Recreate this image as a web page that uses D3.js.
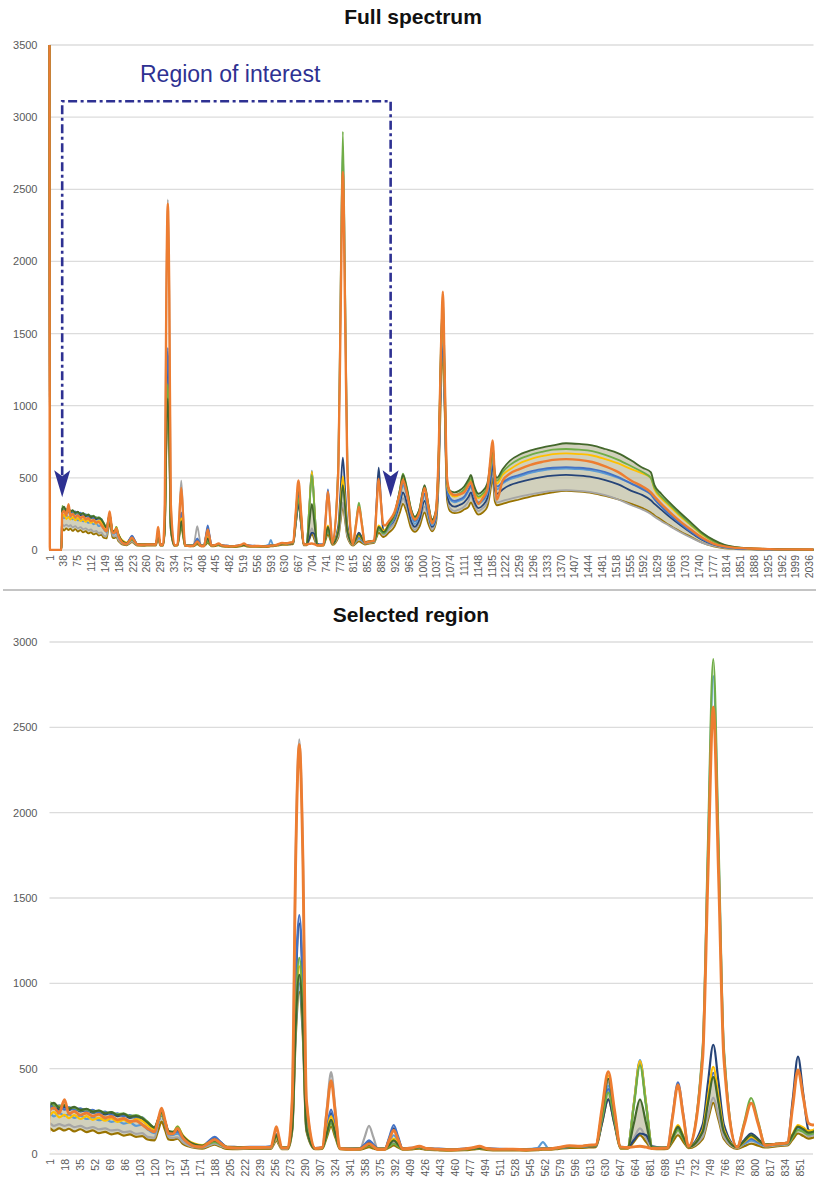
<!DOCTYPE html>
<html>
<head>
<meta charset="utf-8">
<script src="https://cdn.jsdelivr.net/npm/d3@7"></script>
<style>
  body { margin: 0; background: #fff; }
  svg { display: block; font-family: "Liberation Sans", Arial, sans-serif; }
</style>
</head>
<body>
<svg id="chart" width="816" height="1185"></svg>
<script>
// channel numbers of the points (2048 channels)
const channels = [
  1, 2, 33, 35, 40, 46, 52, 57, 63, 70,
  77, 84, 91, 98, 105, 112, 119, 126, 133, 140,
  146, 154, 158, 162, 166, 170, 175, 180, 186, 192,
  200, 208, 215, 222, 229, 236, 248, 262, 274, 286,
  289, 292, 295, 298, 305, 310, 314, 318, 322, 326,
  336, 344, 349, 354, 359, 364, 378, 387, 392, 397,
  402, 407, 415, 420, 425, 430, 435, 446, 454, 462,
  475, 490, 505, 516, 522, 530, 545, 560, 575, 588,
  594, 600, 612, 624, 636, 646, 654, 661, 668, 675,
  682, 690, 697, 704, 711, 718, 728, 735, 741, 747,
  753, 759, 775, 781, 787, 793, 799, 814, 822, 830,
  838, 846, 858, 871, 877, 883, 889, 895, 900, 910,
  925, 940, 948, 958, 970, 980, 992, 1006, 1016, 1026,
  1036, 1044, 1050, 1055, 1060, 1066, 1074, 1086, 1098, 1112,
  1124, 1130, 1138, 1150, 1162, 1174, 1182, 1188, 1194, 1200,
  1215, 1235, 1260, 1290, 1320, 1350, 1385, 1420, 1455, 1490,
  1525, 1560, 1590, 1612, 1622, 1640, 1660, 1690, 1720, 1750,
  1780, 1810, 1840, 1880, 1930, 1990, 2048
];

// intensities, one array per spectrum
const orangeSpec = [
  3500, 0, 0, 255, 270, 240, 318, 235, 250, 228,
  240, 222, 232, 212, 220, 200, 208, 190, 195, 172,
  150, 130, 199, 268, 194, 120, 118, 150, 95, 65,
  45, 42, 63, 85, 61, 38, 36, 38, 38, 40,
  100, 160, 98, 36, 36, 320, 1750, 2400, 1750, 320,
  32, 38, 234, 430, 231, 32, 28, 30, 45, 60,
  44, 28, 28, 84, 140, 84, 30, 35, 45, 32,
  28, 25, 30, 38, 45, 32, 27, 28, 25, 28,
  30, 30, 38, 48, 45, 52, 55, 268, 482, 261,
  40, 38, 42, 45, 40, 32, 34, 35, 220, 404,
  224, 45, 562, 1640, 2620, 1640, 562, 40, 169, 298,
  174, 50, 58, 65, 279, 493, 330, 180, 170, 200,
  260, 400, 485, 400, 260, 210, 260, 430, 300, 185,
  260, 700, 1400, 1790, 1200, 500, 404, 380, 385, 400,
  450, 470, 400, 320, 360, 420, 620, 760, 520, 350,
  480, 530, 560, 590, 610, 625, 630, 625, 610, 580,
  540, 480, 440, 400, 370, 320, 270, 200, 140, 85,
  45, 25, 15, 10, 6, 4, 3
];
const blueSpec = [
  3500, 0, 0, 290, 265, 285, 260, 275, 258, 268,
  250, 258, 240, 248, 228, 238, 220, 228, 210, 215,
  180, 155, 200, 245, 188, 130, 125, 132, 100, 70,
  50, 48, 74, 100, 70, 40, 40, 42, 42, 44,
  72, 100, 69, 38, 38, 190, 1020, 1400, 1020, 190,
  35, 36, 148, 260, 148, 35, 32, 34, 57, 80,
  56, 32, 32, 101, 170, 101, 33, 36, 40, 33,
  30, 28, 30, 36, 40, 33, 30, 29, 28, 30,
  35, 32, 36, 42, 44, 48, 50, 215, 380, 210,
  40, 40, 290, 540, 288, 38, 37, 38, 229, 420,
  234, 48, 135, 314, 475, 314, 135, 42, 66, 90,
  70, 50, 55, 60, 110, 160, 145, 125, 130, 170,
  230, 380, 470, 400, 260, 200, 250, 390, 280, 190,
  240, 600, 1300, 1700, 1100, 450, 360, 340, 350, 370,
  420, 450, 380, 330, 350, 410, 540, 680, 480, 440,
  470, 500, 520, 545, 560, 570, 575, 570, 560, 540,
  505, 460, 420, 385, 350, 300, 250, 185, 125, 75,
  40, 22, 12, 8, 5, 3, 2
];
const graySpec = [
  3500, 0, 0, 180, 165, 175, 165, 172, 158, 165,
  150, 158, 145, 150, 138, 142, 128, 132, 118, 122,
  100, 95, 175, 255, 178, 100, 95, 98, 70, 52,
  40, 38, 49, 60, 47, 35, 33, 34, 34, 35,
  62, 90, 61, 32, 32, 320, 1770, 2430, 1770, 320,
  30, 36, 258, 480, 256, 32, 30, 32, 98, 165,
  97, 30, 30, 50, 70, 50, 30, 33, 38, 30,
  28, 25, 28, 34, 38, 30, 27, 26, 25, 28,
  30, 30, 35, 42, 43, 46, 48, 234, 420, 229,
  38, 36, 93, 150, 92, 35, 34, 35, 93, 150,
  95, 40, 100, 221, 330, 221, 100, 35, 58, 80,
  62, 45, 50, 55, 103, 150, 130, 105, 110, 140,
  190, 300, 360, 300, 180, 140, 190, 300, 220, 140,
  200, 550, 1200, 1450, 1000, 400, 290, 270, 280, 300,
  340, 380, 320, 270, 290, 330, 450, 560, 380, 330,
  340, 355, 370, 385, 400, 410, 415, 410, 400, 380,
  350, 310, 280, 250, 230, 200, 170, 125, 85, 50,
  28, 15, 8, 5, 3, 2, 1
];
const goldSpec = [
  3500, 0, 0, 220, 245, 215, 230, 210, 228, 205,
  222, 200, 212, 195, 208, 188, 200, 182, 205, 195,
  170, 145, 192, 240, 185, 130, 128, 160, 110, 80,
  60, 52, 66, 80, 61, 42, 40, 40, 40, 40,
  70, 100, 68, 37, 37, 160, 800, 1100, 800, 160,
  32, 36, 128, 220, 126, 32, 30, 31, 43, 55,
  42, 30, 30, 60, 90, 60, 30, 33, 40, 31,
  28, 25, 28, 32, 35, 30, 27, 26, 25, 28,
  30, 30, 36, 45, 46, 50, 52, 256, 460, 250,
  40, 38, 292, 545, 290, 37, 36, 38, 104, 170,
  106, 42, 142, 335, 510, 335, 142, 40, 70, 100,
  77, 55, 60, 65, 118, 170, 155, 135, 140, 180,
  250, 400, 500, 420, 270, 220, 270, 420, 300, 200,
  250, 650, 1350, 1600, 1100, 450, 390, 370, 380, 410,
  460, 490, 420, 360, 380, 430, 560, 700, 500, 460,
  520, 560, 600, 630, 650, 665, 670, 665, 655, 630,
  600, 560, 530, 500, 420, 360, 310, 235, 170, 105,
  60, 30, 18, 11, 6, 4, 3
];
const lightBlueSpec = [
  3500, 0, 0, 240, 220, 240, 225, 232, 212, 225,
  205, 215, 198, 205, 188, 195, 178, 185, 165, 172,
  145, 122, 178, 235, 175, 115, 112, 122, 88, 62,
  45, 42, 58, 75, 56, 38, 37, 38, 38, 40,
  75, 110, 73, 37, 37, 150, 730, 1000, 730, 150,
  32, 35, 118, 200, 116, 32, 30, 31, 43, 55,
  42, 30, 30, 70, 110, 70, 30, 33, 38, 30,
  28, 25, 28, 34, 38, 30, 27, 27, 28, 35,
  70, 35, 36, 44, 44, 48, 50, 225, 400, 220,
  40, 40, 295, 550, 293, 38, 36, 38, 99, 160,
  101, 42, 600, 1755, 2800, 1755, 600, 40, 60, 80,
  65, 50, 55, 65, 108, 150, 135, 115, 120, 160,
  220, 360, 450, 380, 240, 180, 240, 380, 260, 170,
  230, 620, 1300, 1550, 1050, 430, 350, 330, 340, 360,
  410, 440, 380, 320, 340, 390, 520, 650, 460, 420,
  460, 490, 510, 535, 550, 560, 565, 560, 550, 530,
  500, 460, 430, 400, 360, 310, 260, 195, 135, 80,
  42, 22, 12, 8, 5, 3, 2
];
const greenSpec = [
  3500, 0, 0, 305, 285, 280, 290, 268, 272, 255,
  262, 248, 255, 240, 246, 232, 238, 222, 228, 212,
  190, 155, 198, 240, 182, 125, 122, 160, 105, 75,
  50, 48, 59, 70, 55, 40, 39, 40, 40, 41,
  75, 110, 73, 37, 37, 165, 840, 1150, 840, 165,
  32, 35, 108, 180, 106, 32, 30, 31, 40, 50,
  40, 30, 30, 45, 60, 45, 30, 33, 38, 30,
  28, 25, 28, 32, 35, 30, 27, 26, 25, 28,
  30, 30, 35, 42, 43, 48, 50, 205, 360, 199,
  38, 38, 279, 520, 277, 37, 36, 38, 89, 140,
  91, 42, 620, 1817, 2900, 1817, 620, 40, 184, 328,
  189, 50, 55, 60, 100, 140, 130, 115, 120, 170,
  240, 420, 530, 440, 280, 230, 280, 440, 310, 210,
  260, 700, 1450, 1650, 1150, 470, 400, 380, 390, 420,
  470, 500, 430, 370, 390, 440, 580, 720, 520, 480,
  540, 590, 630, 660, 680, 695, 700, 695, 685, 660,
  625, 580, 540, 500, 430, 370, 320, 245, 175, 110,
  60, 30, 18, 10, 6, 4, 3
];
const darkBlueSpec = [
  3500, 0, 0, 270, 285, 260, 275, 258, 268, 250,
  258, 242, 248, 232, 240, 222, 230, 212, 218, 208,
  175, 145, 188, 230, 175, 120, 118, 122, 95, 68,
  45, 45, 70, 95, 68, 42, 41, 40, 40, 44,
  80, 115, 76, 38, 38, 185, 985, 1350, 985, 185,
  35, 37, 139, 240, 138, 35, 32, 34, 52, 70,
  51, 32, 32, 91, 150, 91, 32, 35, 40, 33,
  30, 28, 30, 33, 35, 32, 29, 28, 28, 30,
  32, 32, 36, 42, 44, 46, 48, 184, 320, 181,
  42, 40, 80, 120, 110, 45, 38, 38, 94, 150,
  97, 45, 172, 418, 640, 418, 172, 42, 81, 120,
  87, 55, 60, 65, 318, 570, 350, 140, 130, 160,
  210, 330, 400, 330, 200, 160, 210, 340, 250, 160,
  220, 580, 1250, 1500, 1000, 400, 320, 300, 310, 330,
  370, 400, 340, 290, 310, 360, 480, 600, 420, 390,
  420, 450, 470, 490, 505, 515, 520, 515, 505, 485,
  455, 410, 380, 345, 320, 280, 235, 175, 120, 70,
  38, 20, 12, 7, 4, 3, 2
];
const darkGoldSpec = [
  3500, 0, 0, 150, 135, 150, 138, 148, 132, 145,
  128, 138, 122, 130, 115, 122, 108, 115, 100, 105,
  85, 80, 135, 190, 138, 85, 82, 90, 60, 45,
  35, 32, 43, 55, 42, 30, 29, 30, 30, 30,
  55, 80, 54, 28, 28, 135, 690, 950, 690, 135,
  28, 30, 95, 160, 94, 28, 25, 26, 33, 40,
  32, 25, 25, 38, 50, 38, 25, 27, 32, 25,
  22, 20, 22, 27, 30, 24, 21, 21, 20, 22,
  25, 25, 30, 36, 36, 38, 40, 180, 320, 176,
  32, 32, 71, 110, 70, 30, 29, 30, 70, 110,
  72, 35, 88, 199, 300, 199, 88, 30, 45, 60,
  49, 38, 45, 50, 85, 120, 105, 90, 95, 120,
  160, 260, 320, 260, 150, 125, 160, 260, 180, 130,
  180, 500, 1100, 1400, 950, 350, 270, 255, 260, 280,
  300, 330, 290, 245, 260, 300, 400, 500, 340, 310,
  320, 335, 350, 370, 385, 400, 410, 405, 395, 375,
  350, 320, 290, 260, 240, 210, 175, 130, 90, 50,
  25, 12, 7, 4, 3, 2, 1
];
const darkGreenSpec = [
  3500, 0, 0, 285, 300, 270, 285, 265, 276, 258,
  265, 248, 255, 238, 245, 228, 235, 218, 222, 210,
  185, 155, 202, 250, 192, 135, 130, 142, 105, 75,
  55, 48, 64, 80, 60, 40, 39, 40, 40, 40,
  75, 110, 73, 37, 37, 150, 765, 1050, 765, 150,
  32, 35, 118, 200, 116, 32, 30, 31, 43, 55,
  42, 30, 30, 55, 80, 55, 30, 33, 40, 31,
  28, 25, 28, 32, 35, 30, 27, 26, 25, 28,
  30, 30, 36, 45, 46, 50, 52, 246, 440, 240,
  40, 38, 179, 320, 178, 37, 36, 38, 99, 160,
  101, 42, 130, 298, 450, 298, 130, 40, 75, 110,
  82, 55, 60, 65, 113, 160, 145, 125, 130, 180,
  250, 420, 520, 430, 280, 230, 280, 450, 320, 210,
  270, 700, 1400, 1760, 1200, 480, 410, 400, 410, 440,
  490, 520, 450, 390, 410, 460, 600, 740, 540, 500,
  560, 620, 660, 690, 710, 725, 740, 735, 725, 700,
  670, 620, 570, 540, 450, 390, 335, 260, 190, 120,
  70, 35, 20, 12, 7, 4, 3
];

// category axes
const fullCount = 2048;
const roiStart = 35;      // first channel of the selected region
const roiCount = 866;
const fullTicks = [1, 38, 75, 112, 149, 186, 223, 260, 297, 334, 371, 408, 445, 482, 519, 556, 593, 630,
  667, 704, 741, 778, 815, 852, 889, 926, 963, 1000, 1037, 1074, 1111, 1148, 1185, 1222, 1259, 1296,
  1333, 1370, 1407, 1444, 1481, 1518, 1555, 1592, 1629, 1666, 1703, 1740, 1777, 1814, 1851, 1888,
  1925, 1962, 1999, 2036];
const roiTicks = [1, 18, 35, 52, 69, 86, 103, 120, 137, 154, 171, 188, 205, 222, 239, 256, 273, 290,
  307, 324, 341, 358, 375, 392, 409, 426, 443, 460, 477, 494, 511, 528, 545, 562, 579, 596, 613, 630,
  647, 664, 681, 698, 715, 732, 749, 766, 783, 800, 817, 834, 851];
const fullYTicks = [0, 500, 1000, 1500, 2000, 2500, 3000, 3500];
const roiYTicks = [0, 500, 1000, 1500, 2000, 2500, 3000];

// annotation: channels of the two arrows, box top and arrow tip intensity
const roiBox = [35, 915];
const roiBoxTop = 3110;
const roiArrowTip = 365;

const spectra = [
  { values: darkGoldSpec, color: "#997300" },
  { values: graySpec, color: "#A5A5A5" },
  { values: darkBlueSpec, color: "#264478" },
  { values: lightBlueSpec, color: "#5B9BD5" },
  { values: blueSpec, color: "#4472C4" },
  { values: goldSpec, color: "#FFC000" },
  { values: greenSpec, color: "#70AD47" },
  { values: darkGreenSpec, color: "#43682B" },
  { values: orangeSpec, color: "#ED7D31", main: true }
];

// the bulk of the overlapping spectra, between the low and high envelope traces
const bulk = channels.map((c, i) => [c, darkGoldSpec[i], darkGreenSpec[i]]);

const svg = d3.select("#chart");

function drawPanel(cfg) {
  const x = d3.scaleLinear().domain(cfg.xDomain).range(cfg.xRange);
  const y = d3.scaleLinear().domain([0, cfg.yMax]).range(cfg.yRange);
  const g = svg.append("g");

  // gridlines
  g.append("g").selectAll("line").data(cfg.yTicks).join("line")
    .attr("x1", cfg.xRange[0]).attr("x2", cfg.xRange[1])
    .attr("y1", d => y(d)).attr("y2", d => y(d))
    .attr("stroke", "#dcdcdc").attr("stroke-width", 1.3);

  // y labels
  const ya = g.append("g").attr("transform", `translate(${cfg.xRange[0]},0)`)
    .call(d3.axisLeft(y).tickValues(cfg.yTicks).tickFormat(d3.format("d"))
      .tickSize(0).tickPadding(12));
  ya.select(".domain").remove();
  ya.attr("font-family", null).attr("font-size", 11);
  ya.selectAll("text").attr("fill", "#595959");

  // x labels (rotated)
  const xa = g.append("g").attr("transform", `translate(0,${cfg.yRange[0]})`)
    .call(d3.axisBottom(x).tickValues(cfg.xTicks).tickFormat(d3.format("d")).tickSize(0));
  xa.select(".domain").remove();
  xa.attr("font-family", null).attr("font-size", 10.5);
  xa.selectAll("text")
    .attr("fill", "#595959")
    .attr("transform", "rotate(-90)")
    .attr("x", -5).attr("y", 0).attr("dy", "0.35em")
    .style("text-anchor", "end");

  // spectra
  g.append("clipPath").attr("id", cfg.id + "-clip")
    .append("rect")
    .attr("x", cfg.xRange[0] - cfg.clipPad).attr("y", cfg.yRange[1] - 3)
    .attr("width", cfg.xRange[1] - cfg.xRange[0] + cfg.clipPad + 1)
    .attr("height", cfg.yRange[0] - cfg.yRange[1] + 4);

  const plot = g.append("g").attr("clip-path", `url(#${cfg.id}-clip)`);

  const band = d3.area()
    .x(d => x(d[0] - cfg.offset))
    .y0(d => y(d[1])).y1(d => y(d[2]))
    .curve(d3.curveMonotoneX);
  plot.append("path")
    .attr("d", band(bulk))
    .attr("fill", "#b3b18f").attr("fill-opacity", 0.6);

  const line = d3.line()
    .x(d => x(d[0] - cfg.offset))
    .y(d => y(d[1]))
    .curve(d3.curveMonotoneX);

  plot.append("g")
    .selectAll("path").data(spectra).join("path")
    .attr("d", s => line(d3.zip(channels, s.values)))
    .attr("fill", "none")
    .attr("stroke", s => s.color)
    .attr("stroke-width", s => s.main ? cfg.mainWidth : cfg.lineWidth)
    .attr("stroke-linejoin", "round");

  // title
  svg.append("text")
    .attr("x", cfg.titleX).attr("y", cfg.titleY)
    .attr("text-anchor", "middle")
    .attr("font-size", 21).attr("font-weight", "bold")
    .attr("fill", "#111")
    .text(cfg.title);

  return { x, y };
}

const full = drawPanel({
  id: "full", title: "Full spectrum", titleX: 413, titleY: 24,
  xDomain: [1, fullCount], xRange: [49.5, 813.5],
  yMax: 3500, yRange: [550, 45], yTicks: fullYTicks, xTicks: fullTicks,
  offset: 0, lineWidth: 1.8, mainWidth: 2.4, clipPad: 1.5
});

drawPanel({
  id: "roi", title: "Selected region", titleX: 411, titleY: 622,
  xDomain: [1, roiCount], xRange: [49.5, 813],
  yMax: 3000, yRange: [1154, 642], yTicks: roiYTicks, xTicks: roiTicks,
  offset: roiStart - 1, lineWidth: 2.2, mainWidth: 2.9, clipPad: -1
});

// separator between the two panels
svg.append("line")
  .attr("x1", 3).attr("x2", 816).attr("y1", 590).attr("y2", 590)
  .attr("stroke", "#c4c4c4").attr("stroke-width", 1.8);

// region of interest annotation
const navy = "#2E3192";
const bx0 = full.x(roiBox[0]), bx1 = full.x(roiBox[1]);
const by = full.y(roiBoxTop), tip = full.y(roiArrowTip);
const ann = svg.append("g");
ann.append("path")
  .attr("d", `M${bx0},${tip - 22}V${by}H${bx1}V${tip - 22}`)
  .attr("fill", "none").attr("stroke", navy)
  .attr("stroke-width", 2.6).attr("stroke-dasharray", "9,3.5,3,3.5");
ann.selectAll(".head").data([bx0, bx1]).join("path")
  .attr("class", "head")
  .attr("d", d => `M${d},${tip}L${d - 8},${tip - 27}L${d},${tip - 21}L${d + 8},${tip - 27}Z`)
  .attr("fill", navy);
ann.append("text")
  .attr("x", 140).attr("y", 82)
  .attr("font-size", 23).attr("fill", navy)
  .text("Region of interest");
</script>
</body>
</html>
